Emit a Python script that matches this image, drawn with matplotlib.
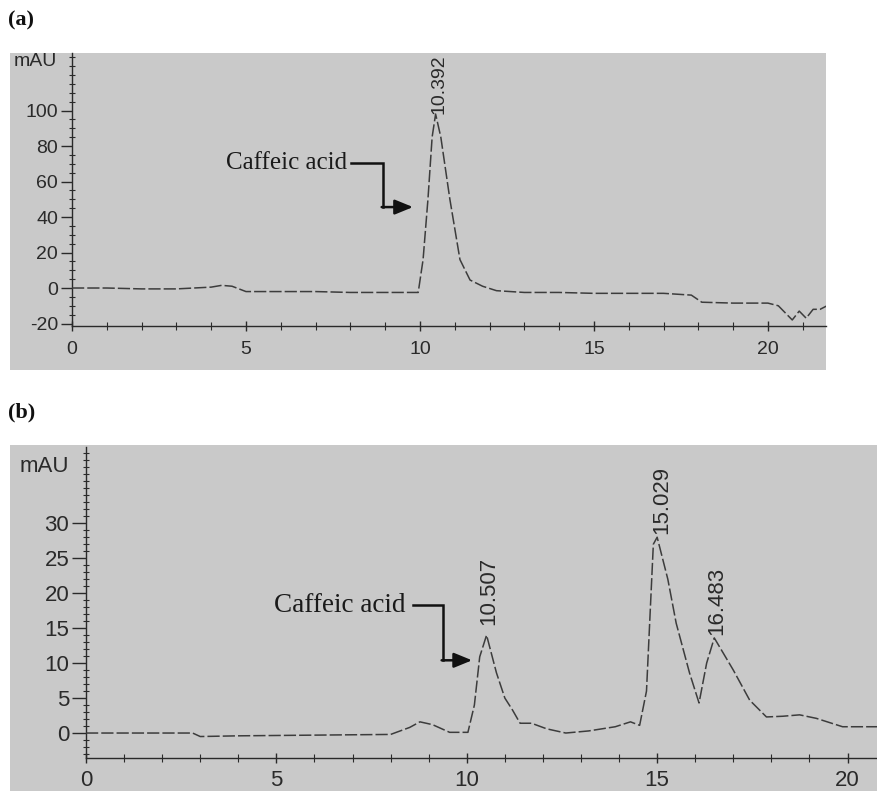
import matplotlib
matplotlib.use("Agg")
import matplotlib.pyplot as plt
from matplotlib.patches import Rectangle
from matplotlib.ticker import MultipleLocator

# ---------------- data ----------------
# Panel (a): standard caffeic acid
time_a = [0, 1, 2, 3, 4, 4.3, 4.6, 5.0, 6, 7, 8, 9, 9.95, 10.09, 10.23, 10.35,
          10.45, 10.6, 10.86, 11.15, 11.44, 11.8, 12.2, 13, 14, 15, 16, 17,
          17.8, 18.1, 19, 20, 20.3, 20.5, 20.7, 20.9, 21.1, 21.3, 21.5, 21.7]
mau_a = [0, 0, -0.5, -0.5, 0.5, 1.5, 1, -2, -2, -2, -2.5, -2.5, -2.5, 16, 50, 85,
         98, 85, 50, 16, 4.5, 1, -1.5, -2.5, -2.5, -3, -3, -3,
         -4, -8, -8.5, -8.5, -10, -14, -18, -13, -17, -12, -12, -10]
peaks_a = [10.392]
peak_tops_a = [98]
yticks_a = [-20, 0, 20, 40, 60, 80, 100]
xticks_a = [0, 5, 10, 15, 20]

# Panel (b): sample extract
time_b = [0, 2.8, 3.0, 4, 6, 8, 8.5, 8.77, 9.1, 9.55, 10.03, 10.2, 10.34, 10.52,
          10.78, 11.0, 11.2, 11.4, 11.7, 12.1, 12.6, 13.2, 13.9, 14.3, 14.54,
          14.72, 14.9, 15.0, 15.28, 15.5, 15.85, 16.1, 16.3, 16.5, 17.0, 17.43,
          17.87, 18.3, 18.74, 19.18, 19.87, 20.8]
mau_b = [0, 0, -0.5, -0.4, -0.3, -0.2, 0.8, 1.6, 1.2, 0.1, 0.1, 4, 10.9, 14,
         8.6, 5, 3.3, 1.4, 1.4, 0.6, 0, 0.3, 0.9, 1.6, 1.1,
         6, 27, 28, 22, 15.7, 8.6, 4.3, 10, 13.6, 9, 4.7,
         2.3, 2.4, 2.6, 2.1, 0.9, 0.9]
peaks_b = [10.507, 15.029, 16.483]
peak_tops_b = [15.5, 28.5, 14]
yticks_b = [0, 5, 10, 15, 20, 25, 30]
xticks_b = [0, 5, 10, 15, 20]

label_compound = "Caffeic acid"

# ---------------- style ----------------
W, H = 878, 791
BG = "#c9c9c9"
INK = "#2a2a2a"
TRACE = "#3c3c3c"
SANS = ["Liberation Sans", "DejaVu Sans"]
SERIF = ["Liberation Serif", "DejaVu Serif"]

fig = plt.figure(figsize=(W / 100, H / 100), dpi=100)
fig.patch.set_facecolor("white")


def fx(px):
    return px / W


def fy(py):
    return 1 - py / H


def panel(rect_px, ax_px, xlim, ylim, fs, major_len, minor_y):
    x0, y0, x1, y1 = rect_px
    fig.patches.append(Rectangle((fx(x0), fy(y1)), fx(x1 - x0), (y1 - y0) / H,
                                 transform=fig.transFigure, facecolor=BG,
                                 edgecolor="none", zorder=0))
    a0, at, a1, ab = ax_px
    ax = fig.add_axes([fx(a0), fy(ab), fx(a1 - a0), (ab - at) / H])
    ax.set_zorder(2)
    ax.patch.set_visible(False)
    ax.set_xlim(*xlim)
    ax.set_ylim(*ylim)
    for s in ("top", "right"):
        ax.spines[s].set_visible(False)
    for s in ("left", "bottom"):
        ax.spines[s].set_color(INK)
        ax.spines[s].set_linewidth(1.0)
    ax.xaxis.set_minor_locator(MultipleLocator(1))
    ax.yaxis.set_minor_locator(MultipleLocator(minor_y))
    ax.tick_params(axis="y", which="major", direction="out", length=major_len,
                   width=1, color=INK, labelsize=fs, labelcolor=INK, pad=2)
    ax.tick_params(axis="y", which="minor", direction="inout", length=4,
                   width=0.8, color=INK)
    ax.tick_params(axis="x", which="major", direction="inout", length=7,
                   width=1, color=INK, labelsize=fs, labelcolor=INK, pad=6)
    ax.tick_params(axis="x", which="minor", direction="inout", length=6,
                   width=0.8, color=INK)
    return ax


ARROW = dict(arrowstyle="-|>,head_length=1.1,head_width=0.45",
             color="#111111", lw=1.8, shrinkA=0, shrinkB=0)

# ---------------- panel (a) ----------------
ax_a = panel((10, 53, 826, 370), (72, 53, 826, 326),
             (0, 21.67), (-21.4, 132.4), 14, 8, 5)
ax_a.set_xticks(xticks_a)
ax_a.set_yticks(yticks_a)
ax_a.set_xticklabels([str(v) for v in xticks_a], fontfamily=SANS)
ax_a.set_yticklabels([str(v) for v in yticks_a], fontfamily=SANS)
ax_a.tick_params(axis="x", which="major", pad=7)
ax_a.plot(time_a, mau_a, color=TRACE, lw=1.1, ls=(0, (8, 2)), zorder=3)
for rt, top in zip(peaks_a, peak_tops_a):
    ax_a.text(rt + 0.15, top, f"{rt:.3f}", rotation=90, ha="center",
              va="bottom", fontsize=14, color=INK, family=SANS)
fig.text(fx(35), fy(62), "mAU", ha="center", va="center", fontsize=14,
         color=INK, family=SANS, zorder=3)
ax_a.text(7.9, 70.4, label_compound, ha="right", va="center", fontsize=18,
          color="#1a1a1a", family=SERIF)
ax_a.plot([8.02, 8.94, 8.94], [70.4, 70.4, 45.6], color="#111111", lw=1.8,
          solid_joinstyle="miter", zorder=4)
ax_a.annotate("", xy=(9.8, 45.6), xytext=(8.9, 45.6), arrowprops=ARROW)
fig.text(fx(8), fy(20), "(a)", ha="left", va="center", fontsize=16,
         fontweight="bold", family=SERIF, color="#111111")

# ---------------- panel (b) ----------------
ax_b = panel((10, 445, 878, 791), (86, 447, 878, 758),
             (0, 20.8), (-3.57, 40.9), 16, 10, 1)
ax_b.set_xticks(xticks_b)
ax_b.set_yticks(yticks_b)
ax_b.set_xticklabels([str(v) for v in xticks_b], fontfamily=SANS)
ax_b.set_yticklabels([str(v) for v in yticks_b], fontfamily=SANS)
ax_b.tick_params(axis="x", which="major", pad=5)
ax_b.plot(time_b, mau_b, color=TRACE, lw=1.1, ls=(0, (8, 2)), zorder=3)
for rt, top in zip(peaks_b, peak_tops_b):
    ax_b.text(rt + 0.08, top, f"{rt:.3f}", rotation=90, ha="center",
              va="bottom", fontsize=16, color=INK, family=SANS)
fig.text(fx(44), fy(466), "mAU", ha="center", va="center", fontsize=16,
         color=INK, family=SANS, zorder=3)
ax_b.text(8.4, 18.3, label_compound, ha="right", va="center", fontsize=19.5,
          color="#1a1a1a", family=SERIF)
ax_b.plot([8.59, 9.38, 9.38], [18.3, 18.3, 10.4], color="#111111", lw=1.8,
          solid_joinstyle="miter", zorder=4)
ax_b.annotate("", xy=(10.14, 10.4), xytext=(9.34, 10.4), arrowprops=ARROW)
fig.text(fx(8), fy(412), "(b)", ha="left", va="center", fontsize=16,
         fontweight="bold", family=SERIF, color="#111111")

fig.savefig("out.png", dpi=100, facecolor="white")
